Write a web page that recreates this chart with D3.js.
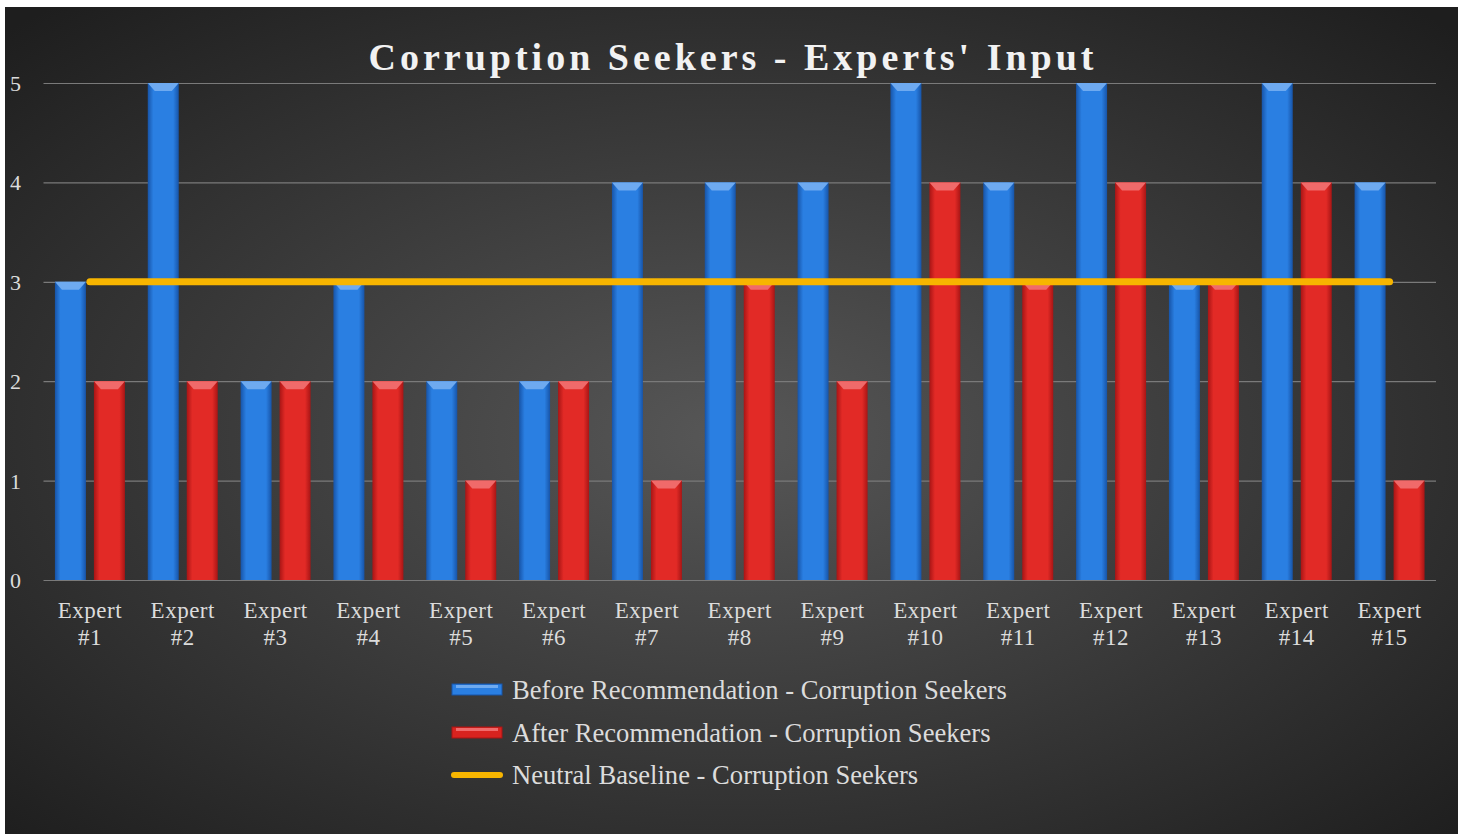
<!DOCTYPE html>
<html>
<head>
<meta charset="utf-8">
<script src="https://cdn.jsdelivr.net/npm/d3@7"></script>
<style>
  html, body { margin: 0; padding: 0; background: #fff; }
  svg { display: block; }
  text { font-family: "Liberation Serif", "Times New Roman", serif; }
</style>
</head>
<body>
<svg id="chart"></svg>
<script>
// chart data
var experts = ["Expert #1", "Expert #2", "Expert #3", "Expert #4", "Expert #5",
  "Expert #6", "Expert #7", "Expert #8", "Expert #9", "Expert #10",
  "Expert #11", "Expert #12", "Expert #13", "Expert #14", "Expert #15"];
var beforeValues = [3, 5, 2, 3, 2, 2, 4, 4, 4, 5, 4, 5, 3, 5, 4];
var afterValues = [2, 2, 2, 2, 1, 2, 1, 3, 2, 4, 3, 4, 3, 4, 1];
var baselineValues = [3, 3, 3, 3, 3, 3, 3, 3, 3, 3, 3, 3, 3, 3, 3];
var seriesNames = ["Before Recommendation - Corruption Seekers",
  "After Recommendation - Corruption Seekers",
  "Neutral Baseline - Corruption Seekers"];
var yTicks = [0, 1, 2, 3, 4, 5];
var chartTitle = "Corruption Seekers - Experts' Input";

var width = 1465;
var height = 834;

var svg = d3.select("#chart")
  .attr("width", width)
  .attr("height", height);

var defs = svg.append("defs");

// dark radial background
var bg = defs.append("radialGradient")
  .attr("id", "bg-grad")
  .attr("cx", "50%").attr("cy", "52%").attr("r", "70%");
bg.append("stop").attr("offset", "0%").attr("stop-color", "#575757");
bg.append("stop").attr("offset", "100%").attr("stop-color", "#1e1e1e");

// bar gradients (light middle, darker edges)
function barGradient(id, edge, mid) {
  var g = defs.append("linearGradient")
    .attr("id", id)
    .attr("x1", "0%").attr("x2", "100%").attr("y1", "0%").attr("y2", "0%");
  g.append("stop").attr("offset", "0%").attr("stop-color", edge);
  g.append("stop").attr("offset", "18%").attr("stop-color", mid);
  g.append("stop").attr("offset", "82%").attr("stop-color", mid);
  g.append("stop").attr("offset", "100%").attr("stop-color", edge);
}
barGradient("blue-grad", "#1754a8", "#2a7fe2");
barGradient("red-grad", "#a81515", "#e22a26");

svg.append("rect")
  .attr("x", 5).attr("y", 7)
  .attr("width", 1453).attr("height", 827)
  .attr("fill", "url(#bg-grad)");

// scales
var x = d3.scaleBand()
  .domain(experts)
  .range([43.5, 1436])
  .padding(0);

var x1 = d3.scaleBand()
  .domain(["before", "after"])
  .range([0, x.bandwidth()])
  .paddingInner(0.205)
  .paddingOuter(0.293);

var y = d3.scaleLinear()
  .domain([0, 5])
  .range([580, 83]);

// gridlines
svg.append("g")
  .selectAll("line")
  .data(yTicks)
  .enter()
  .append("line")
  .attr("x1", 43.5)
  .attr("x2", 1436)
  .attr("y1", function (d) { return y(d) + 0.5; })
  .attr("y2", function (d) { return y(d) + 0.5; })
  .attr("stroke", "#7a7a7a")
  .attr("stroke-width", 1.2);

// y axis labels
svg.append("g")
  .selectAll("text")
  .data(yTicks)
  .enter()
  .append("text")
  .attr("x", 10)
  .attr("y", function (d) { return y(d) + 8; })
  .attr("fill", "#dcdcdc")
  .attr("font-size", 22)
  .text(function (d) { return d; });

// bars
var rows = experts.map(function (e, i) {
  return [
    { key: "before", cat: e, value: beforeValues[i] },
    { key: "after", cat: e, value: afterValues[i] }
  ];
});

var groups = svg.append("g")
  .selectAll("g")
  .data(rows)
  .enter()
  .append("g")
  .attr("transform", function (d) { return "translate(" + x(d[0].cat) + ",0)"; });

var bars = groups.selectAll("g")
  .data(function (d) { return d; })
  .enter()
  .append("g");

bars.append("rect")
  .attr("x", function (d) { return x1(d.key); })
  .attr("y", function (d) { return y(d.value); })
  .attr("width", x1.bandwidth())
  .attr("height", function (d) { return y(0) - y(d.value); })
  .attr("fill", function (d) { return d.key == "before" ? "url(#blue-grad)" : "url(#red-grad)"; });

// bevelled top
bars.append("path")
  .attr("d", function (d) {
    var bx = x1(d.key), bw = x1.bandwidth(), by = y(d.value);
    return "M" + bx + "," + by + "L" + (bx + bw) + "," + by +
      "L" + (bx + bw - 7) + "," + (by + 8) + "L" + (bx + 7) + "," + (by + 8) + "Z";
  })
  .attr("fill", function (d) { return d.key == "before" ? "#6eaaf0" : "#f06a6a"; });

// neutral baseline line
var line = d3.line()
  .x(function (d, i) { return x(experts[i]) + x.bandwidth() / 2; })
  .y(function (d) { return y(d); });

svg.append("path")
  .datum(baselineValues)
  .attr("d", line)
  .attr("fill", "none")
  .attr("stroke", "#f7b500")
  .attr("stroke-width", 7)
  .attr("stroke-linecap", "round");

// x axis labels
var xl = svg.append("g")
  .selectAll("text")
  .data(experts)
  .enter()
  .append("text")
  .attr("x", function (d) { return x(d) + x.bandwidth() / 2; })
  .attr("y", 618)
  .attr("text-anchor", "middle")
  .attr("fill", "#dcdcdc")
  .attr("font-size", 23)
  .attr("letter-spacing", 0.5);

xl.append("tspan")
  .attr("x", function (d) { return x(d) + x.bandwidth() / 2; })
  .text(function (d) { return d.split(" ")[0]; });
xl.append("tspan")
  .attr("x", function (d) { return x(d) + x.bandwidth() / 2; })
  .attr("dy", 27)
  .text(function (d) { return d.split(" ")[1]; });

// title
svg.append("text")
  .attr("x", 733)
  .attr("y", 70)
  .attr("text-anchor", "middle")
  .attr("fill", "#f2f2f2")
  .attr("font-size", 38)
  .attr("font-weight", "bold")
  .attr("letter-spacing", 4)
  .text(chartTitle);

// legend
var legendY = [690, 733, 775];
var legend = svg.append("g");
var lg = legend.selectAll("g")
  .data(seriesNames)
  .enter()
  .append("g")
  .attr("transform", function (d, i) { return "translate(452," + legendY[i] + ")"; });

lg.filter(function (d, i) { return i < 2; })
  .append("rect")
  .attr("x", 0).attr("y", -6)
  .attr("width", 50).attr("height", 11)
  .attr("fill", function (d, i) { return i == 0 ? "#2a7fe2" : "#d8231f"; })
  .attr("stroke", function (d, i) { return i == 0 ? "#1754a8" : "#a81515"; })
  .attr("stroke-width", 1);

lg.filter(function (d, i) { return i < 2; })
  .append("rect")
  .attr("x", 4).attr("y", -5)
  .attr("width", 42).attr("height", 3)
  .attr("fill", function (d, i) { return i == 0 ? "#6eaaf0" : "#f06a6a"; });

lg.filter(function (d, i) { return i == 2; })
  .append("line")
  .attr("x1", 2).attr("x2", 48)
  .attr("y1", 0).attr("y2", 0)
  .attr("stroke", "#f7b500")
  .attr("stroke-width", 6)
  .attr("stroke-linecap", "round");

lg.append("text")
  .attr("x", 60)
  .attr("y", 9)
  .attr("fill", "#dcdcdc")
  .attr("font-size", 26.6)
  .text(function (d) { return d; });
</script>
</body>
</html>
